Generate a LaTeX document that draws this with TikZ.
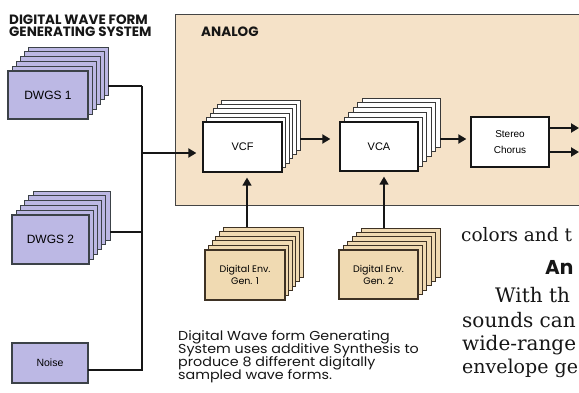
\documentclass[tikz,border=0pt]{standalone}
\usepackage{fontspec}
\setmainfont{Liberation Sans}
\newfontfamily\geo{Poppins}
\newfontfamily\geowide{Poppins}[FakeStretch=1.1]
\newfontfamily\helv{Liberation Sans}
\newfontfamily\bodyserif{DejaVu Serif}
\usetikzlibrary{arrows.meta}
\definecolor{analogbg}{RGB}{245,226,200}
\definecolor{lav}{RGB}{188,184,228}
\definecolor{lavline}{RGB}{60,66,72}
\definecolor{tanfill}{RGB}{240,218,178}
\definecolor{tanline}{RGB}{62,50,36}
\definecolor{ink}{RGB}{22,22,22}
\newcommand{\layerstack}[7]{%
  \foreach \k in {5,4,3,2,1}{%
    \draw[#7] ({#1+\k*#5},{#2-\k*#6}) rectangle ({#3+\k*#5},{#4-\k*#6});}}
\begin{document}
\begin{tikzpicture}[x=1pt,y=-1pt,
  conn/.style={line width=2.2pt, draw=ink, line join=miter},
  arr/.style={conn, -{Triangle[length=8pt,width=9pt]}},
  box/.style={draw=ink, line width=1.3pt, inner sep=0pt, align=center},
  lavlayer/.style={fill=lav, draw=lavline, line width=0.7pt},
  whitelayer/.style={fill=white, draw=ink!85, line width=0.7pt},
  tanlayer/.style={fill=tanfill, draw=tanline, line width=0.7pt},
  dwgsbox/.style={box, fill=lav, draw=lavline, font=\helv\fontsize{12}{14}\selectfont},
  sigbox/.style={box, fill=white, font=\helv\fontsize{11}{13}\selectfont},
  envbox/.style={box, fill=tanfill, draw=tanline, font=\geo\fontsize{9.5}{12}\selectfont},
  captxt/.style={anchor=base west, inner sep=0pt, text=ink, font=\geowide\fontsize{13}{13}\selectfont},
  bodytxt/.style={anchor=base west, inner sep=0pt, text=ink, font=\bodyserif\fontsize{20}{24}\selectfont},
  headtxt/.style={anchor=base west, inner sep=0pt, text=ink, font=\geo\bfseries\fontsize{13.5}{13}\selectfont}
]
\useasboundingbox (0,0) rectangle (579,393);
\clip (0,0) rectangle (579,393);
\fill[white] (0,0) rectangle (579,393);

% analog area
\fill[analogbg] (175,14) rectangle (590,205);
\draw[ink!80, line width=0.8pt] (590,14) -- (175,14) -- (175,205) -- (590,205);

% headings
\node[headtxt] (title1) at (9,25) {DIGITAL WAVE FORM};
\node[headtxt] (title2) at (9,37) {GENERATING SYSTEM};
\node[headtxt] (analog) at (201,37) {ANALOG};

% DWGS 1
\layerstack{8}{71}{88}{119}{4}{4.8}{lavlayer}
\node[dwgsbox, minimum width=80pt, minimum height=48pt] (dwgs1) at (48,95) {DWGS 1};
% DWGS 2
\layerstack{12}{215}{89}{264}{4.2}{4.8}{lavlayer}
\node[dwgsbox, minimum width=77pt, minimum height=49pt] (dwgs2) at (50.5,239.5) {DWGS 2};
% Noise
\node[dwgsbox, minimum width=76pt, minimum height=40pt, font=\helv\fontsize{10.5}{12}\selectfont] (noise) at (50,363) {Noise};

% VCF
\layerstack{203}{122}{282}{172}{3.6}{4.4}{whitelayer}
\node[sigbox, minimum width=79pt, minimum height=50pt] (vcf) at (242.5,147) {VCF};
% VCA
\layerstack{340}{122}{418}{171}{4.4}{4.8}{whitelayer}
\node[sigbox, minimum width=78pt, minimum height=49pt] (vca) at (379,146.5) {VCA};
% Stereo chorus
\node[sigbox, minimum width=78pt, minimum height=50pt, font=\helv\fontsize{10}{16}\selectfont] (chorus) at (510,142) {Stereo\\Chorus};

% Envelope generators
\layerstack{205}{250}{285}{300}{3.6}{4.6}{tanlayer}
\node[envbox, minimum width=80pt, minimum height=50pt] (eg1) at (245,275) {Digital Env.\\Gen. 1};
\layerstack{339}{250}{418}{299}{4.4}{4.4}{tanlayer}
\node[envbox, minimum width=79pt, minimum height=49pt] (eg2) at (378.5,274.5) {Digital Env.\\Gen. 2};

% connector points
\coordinate (d1out) at (108,86);
\coordinate (d2out) at (110,232);
\coordinate (noiseout) at (88,370);
\coordinate (bustop) at (142,86);
\coordinate (busmid) at (142,153);
\coordinate (vcfout) at (300,139);
\coordinate (vcaout) at (440,139);
\coordinate (eg1top) at (247,227);
\coordinate (eg2top) at (384,228);
\coordinate (out1) at (579,128);
\coordinate (out2) at (579,152);

\draw[conn] (d1out) -- (bustop);
\draw[conn] (noiseout) -| (bustop);
\draw[conn] (d2out) -- (d2out -| bustop);
\draw[arr, shorten >=6pt] (busmid) -- (busmid -| vcf.west);
\draw[arr, shorten >=9pt] (vcfout) -- (vcfout -| vca.west);
\draw[arr, shorten >=4pt] (vcaout) -- (vcaout -| chorus.west);
\draw[arr] (chorus.east |- out1) -- (out1);
\draw[arr] (chorus.east |- out2) -- (out2);
\draw[arr, line width=1.6pt, shorten >=5pt] (eg1top) -- (eg1top |- vcf.south);
\draw[arr, line width=1.6pt, shorten >=5pt] (eg2top) -- (eg2top |- vca.south);

% caption
\node[captxt] (cap1) at (178,340) {Digital Wave form Generating};
\node[captxt] (cap2) at (178,353) {System uses additive Synthesis to};
\node[captxt] (cap3) at (178,366) {produce 8 different digitally};
\node[captxt] (cap4) at (178,379) {sampled wave forms.};

% body text fragments
\node[bodytxt, font=\bodyserif\fontsize{18.5}{24}\selectfont] (b1) at (461,241) {colors and t};
\node[anchor=base west, inner sep=0pt, text=ink, font=\geo\bfseries\fontsize{20}{22}\selectfont] (b2) at (545,274) {An};
\node[bodytxt] (b3) at (495,302) {With th};
\node[bodytxt] (b4) at (462,327) {sounds can};
\node[bodytxt] (b5) at (462,350) {wide-range};
\node[bodytxt, font=\bodyserif\fontsize{19}{24}\selectfont] (b6) at (462,373) {envelope ge};
\end{tikzpicture}
\end{document}
